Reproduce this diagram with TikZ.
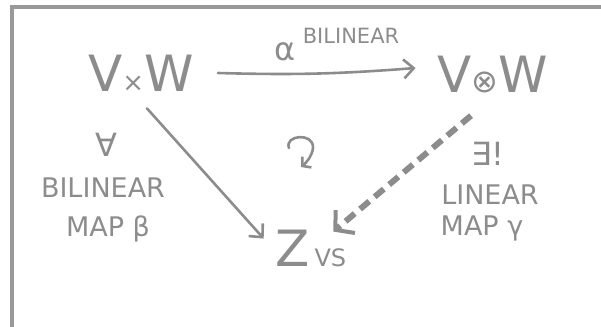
\documentclass[tikz,border=0pt]{standalone}
\usepackage{fontspec}
\setmainfont{DejaVu Sans}
\usepackage{xcolor}
\colorlet{ink}{black!45}
\colorlet{inkFrame}{black!40}
\usetikzlibrary{arrows.meta, positioning}

\begin{document}
\begin{tikzpicture}[x=1pt, y=-1pt,
		space/.style={text=ink, inner sep=0pt, font=\fontsize{50}{50}\selectfont},
		note/.style={text=ink, inner sep=0pt, font=\fontsize{27}{28}\selectfont},
		map/.style={draw=ink, line width=2.6pt, line cap=round, -{Straight Barb[length=10pt, width=19pt]}},
		unique/.style={draw=ink, line width=6pt, dash pattern=on 12pt off 7pt,
			-{Straight Barb[length=13pt, width=30pt, line width=4pt]}}]
	\useasboundingbox (0,0) rectangle (601,326);
	% frame
	\draw[inkFrame, line width=4pt] (12,340) |- (620,7);

	% spaces
	\node[space] (vw) at (141,73) {V{\fontsize{26}{26}\selectfont ×}W};
	\node[space] (vow) at (493,75) {V{\fontsize{32}{32}\selectfont ⊗}W};
	\node[space] (z) at (293,248) {Z};
	\node[note, font=\fontsize{24}{24}\selectfont, anchor=base west] (vs) at ([xshift=4pt]z.base east) {VS};

	% labels
	\node[note, font=\fontsize{32}{32}\selectfont] (alpha) at (285,52) {α};
	\node[note, font=\fontsize{21}{21}\selectfont] (bilTop) at (351,36) {BILINEAR};
	\node[note, font=\fontsize{32}{32}\selectfont] (forall) at (106,145) {∀};
	\node[note] (bil) at (103,188) {BILINEAR};
	\node[note] (mapB) at (108,229) {MAP β};
	\node[note, font=\fontsize{32}{32}\selectfont] (exists) at (488,154) {∃!};
	\node[note] (lin) at (490,195) {LINEAR};
	\node[note] (mapG) at (482,228) {MAP γ};

	% arrows
	\draw[map] ([shift={(24,0)}]vw.east) to[bend right=3] ([shift={(-22,-7)}]vow.west);
	\draw[map] ([shift={(6,17)}]vw.south) -- ([shift={(-12,9)}]z.north west);
	\draw[unique] ([shift={(-22,22)}]vow.south) -- ([shift={(23,2)}]z.north east);

	% commutes
	\draw[map, -{Straight Barb[length=6pt, width=14pt]}] (289,148) .. controls (284,135) and (314,132) .. (313,148)
		.. controls (312,156) and (307,162) .. (301,167);
\end{tikzpicture}
\end{document}
